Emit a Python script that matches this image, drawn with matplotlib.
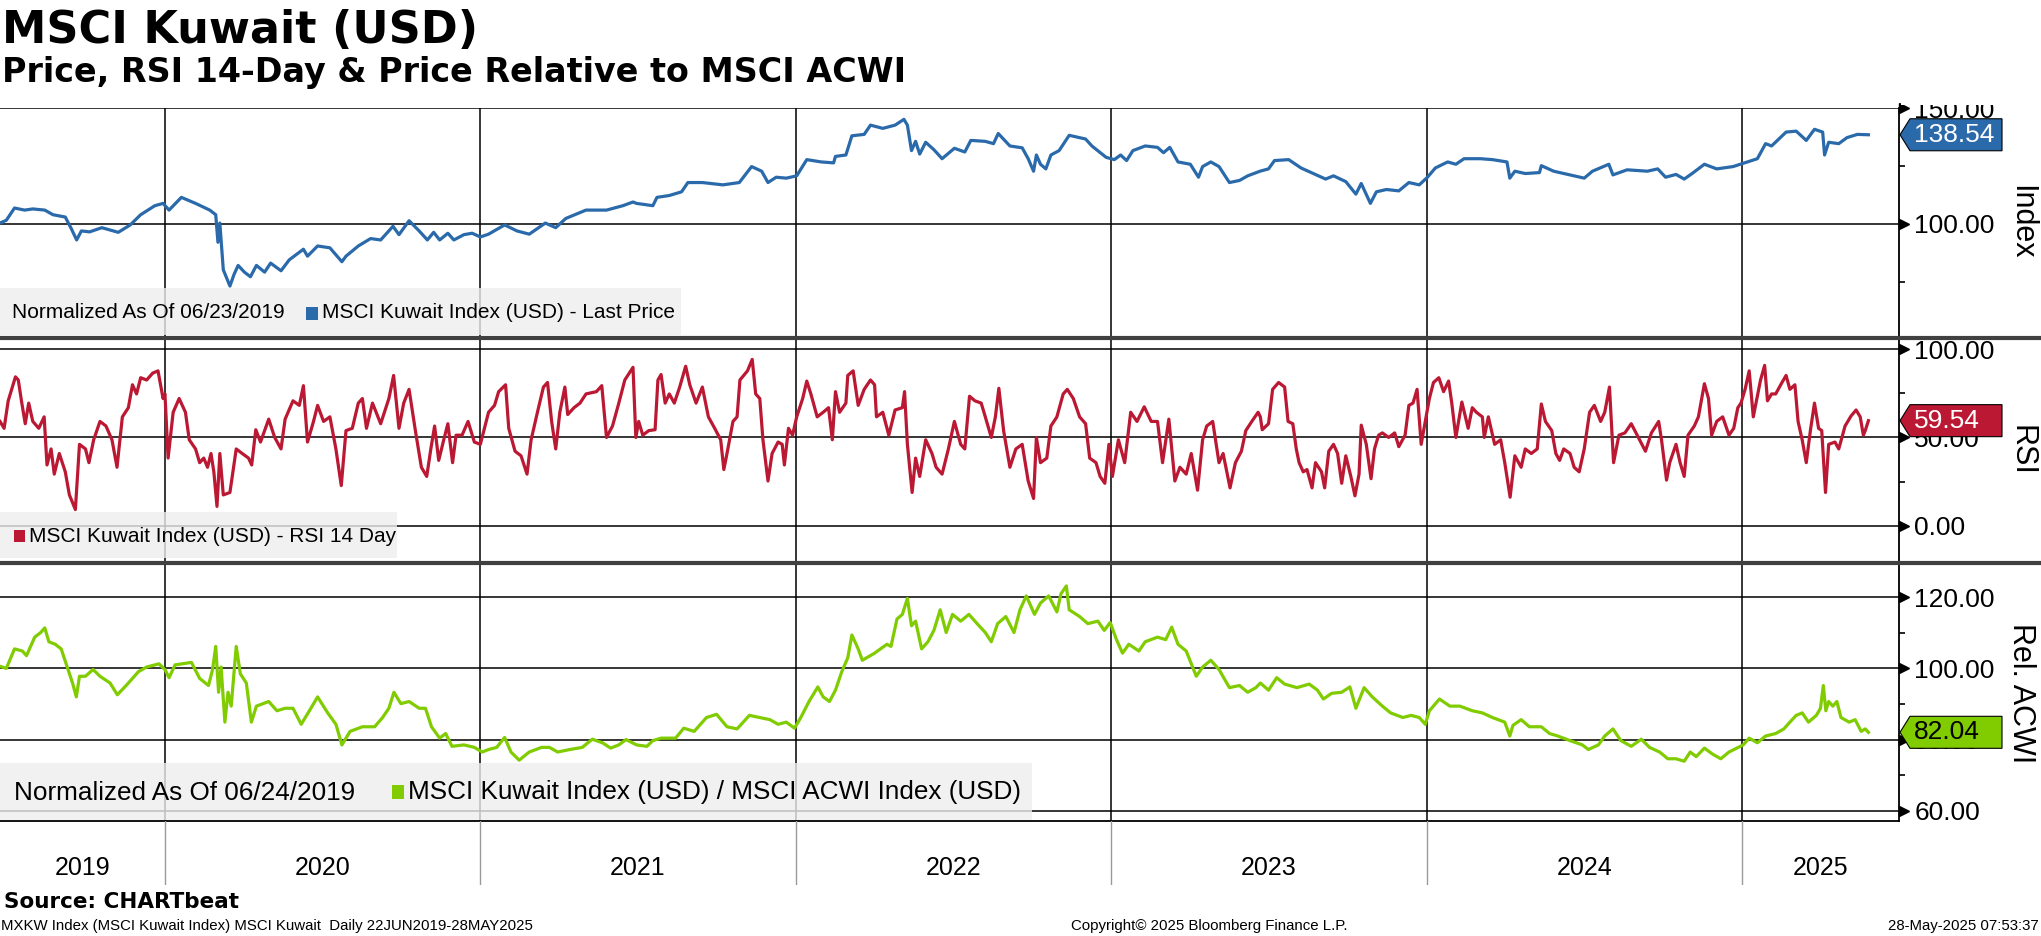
import matplotlib
matplotlib.use('Agg')
import matplotlib.pyplot as plt
import matplotlib.transforms as mtransforms
from matplotlib.patches import Rectangle, Polygon
from matplotlib.lines import Line2D

# ---- data (decimal years) ----
price_t = [2019.477, 2019.497, 2019.523, 2019.555, 2019.581, 2019.619, 2019.645, 2019.684, 2019.703, 2019.720,
           2019.735, 2019.761, 2019.800, 2019.852, 2019.890, 2019.923, 2019.968, 2019.994, 2020.013, 2020.052,
           2020.097, 2020.142, 2020.161, 2020.168, 2020.174, 2020.185, 2020.206, 2020.219, 2020.232, 2020.252,
           2020.271, 2020.290, 2020.316, 2020.335, 2020.368, 2020.394, 2020.439, 2020.452, 2020.484, 2020.523,
           2020.561, 2020.574, 2020.613, 2020.652, 2020.684, 2020.723, 2020.742, 2020.774, 2020.806, 2020.832,
           2020.852, 2020.871, 2020.897, 2020.916, 2020.948, 2020.974, 2021.000, 2021.026, 2021.077, 2021.116,
           2021.155, 2021.206, 2021.239, 2021.271, 2021.335, 2021.400, 2021.452, 2021.484, 2021.495, 2021.547,
           2021.560, 2021.599, 2021.638, 2021.658, 2021.704, 2021.769, 2021.821, 2021.860, 2021.892, 2021.912,
           2021.938, 2021.970, 2022.003, 2022.035, 2022.081, 2022.120, 2022.126, 2022.159, 2022.178, 2022.217,
           2022.237, 2022.276, 2022.315, 2022.343, 2022.354, 2022.367, 2022.380, 2022.393, 2022.412, 2022.438,
           2022.464, 2022.503, 2022.536, 2022.555, 2022.601, 2022.627, 2022.642, 2022.679, 2022.718, 2022.737,
           2022.754, 2022.763, 2022.776, 2022.793, 2022.809, 2022.835, 2022.867, 2022.919, 2022.939, 2022.984,
           2023.010, 2023.030, 2023.049, 2023.069, 2023.108, 2023.147, 2023.166, 2023.186, 2023.212, 2023.251,
           2023.277, 2023.290, 2023.316, 2023.342, 2023.375, 2023.407, 2023.433, 2023.472, 2023.499, 2023.518,
           2023.563, 2023.602, 2023.641, 2023.680, 2023.705, 2023.744, 2023.776, 2023.793, 2023.822, 2023.841,
           2023.873, 2023.912, 2023.944, 2023.977, 2024.003, 2024.028, 2024.067, 2024.093, 2024.119, 2024.171,
           2024.209, 2024.255, 2024.264, 2024.280, 2024.313, 2024.358, 2024.364, 2024.403, 2024.455, 2024.500,
           2024.526, 2024.578, 2024.591, 2024.636, 2024.700, 2024.733, 2024.758, 2024.791, 2024.817, 2024.842,
           2024.881, 2024.920, 2024.972, 2025.004, 2025.049, 2025.075, 2025.094, 2025.140, 2025.172, 2025.204,
           2025.230, 2025.256, 2025.262, 2025.275, 2025.307, 2025.333, 2025.366, 2025.401]
price_v = [100.4, 101.6, 106.9, 106.0, 106.5, 106.0, 104.0, 103.0, 98.0, 93.1,
           97.0, 96.6, 98.4, 96.4, 99.6, 104.0, 107.9, 108.9, 106.0, 111.5,
           108.9, 106.0, 104.0, 92.1, 100.4, 80.2, 73.2, 78.2, 82.1, 79.2,
           77.2, 82.1, 79.2, 83.1, 79.8, 84.5, 89.1, 86.1, 90.5, 89.7,
           83.7, 86.1, 90.5, 93.7, 93.1, 99.0, 95.4, 101.4, 97.0, 93.1,
           96.4, 93.1, 96.0, 93.1, 95.4, 96.0, 94.4, 95.6, 99.6, 97.0,
           95.6, 100.4, 98.4, 102.4, 106.0, 106.0, 107.9, 109.5, 108.9, 107.9,
           111.5, 112.3, 113.9, 117.9, 117.9, 116.9, 117.9, 124.8, 122.8, 117.9,
           120.2, 119.8, 120.8, 127.8, 126.8, 126.4, 129.2, 129.8, 138.1, 138.7,
           142.7, 141.3, 142.7, 145.2, 142.7, 131.7, 135.7, 130.2, 135.3, 132.1,
           128.2, 132.7, 131.1, 136.1, 135.7, 134.7, 139.1, 133.7, 132.9, 128.2,
           122.8, 129.8, 125.8, 123.8, 129.8, 131.7, 138.3, 136.7, 133.7, 128.8,
           127.8, 129.8, 127.4, 131.7, 133.7, 133.1, 130.8, 133.1, 126.8, 125.8,
           120.2, 124.8, 126.8, 124.8, 117.9, 118.8, 120.8, 122.8, 123.8, 127.4,
           127.8, 124.2, 121.8, 119.4, 120.8, 118.3, 112.9, 117.5, 108.9, 113.9,
           114.9, 114.3, 117.9, 116.9, 120.2, 124.2, 126.8, 125.8, 128.2, 128.2,
           127.8, 126.8, 119.8, 122.8, 121.8, 122.2, 125.2, 122.8, 121.2, 119.8,
           122.8, 125.8, 121.2, 123.4, 122.8, 123.8, 120.2, 121.4, 119.4, 121.8,
           125.8, 123.8, 124.8, 126.2, 128.2, 134.7, 133.7, 139.7, 140.1, 136.1,
           140.9, 139.7, 129.8, 135.3, 134.7, 137.3, 138.7, 138.54]

rsi_t = [2019.477, 2019.490, 2019.503, 2019.526, 2019.535, 2019.545, 2019.557, 2019.568, 2019.581, 2019.600,
         2019.617, 2019.626, 2019.639, 2019.649, 2019.665, 2019.684, 2019.697, 2019.716, 2019.729, 2019.748,
         2019.759, 2019.774, 2019.794, 2019.813, 2019.832, 2019.848, 2019.865, 2019.884, 2019.897, 2019.910,
         2019.923, 2019.942, 2019.961, 2019.978, 2019.994, 2020.000, 2020.010, 2020.026, 2020.045, 2020.065,
         2020.077, 2020.097, 2020.110, 2020.123, 2020.135, 2020.146, 2020.155, 2020.165, 2020.174, 2020.185,
         2020.206, 2020.226, 2020.245, 2020.265, 2020.275, 2020.288, 2020.303, 2020.329, 2020.348, 2020.368,
         2020.381, 2020.406, 2020.426, 2020.439, 2020.452, 2020.471, 2020.484, 2020.503, 2020.523, 2020.542,
         2020.559, 2020.574, 2020.594, 2020.613, 2020.626, 2020.639, 2020.658, 2020.684, 2020.710, 2020.725,
         2020.742, 2020.757, 2020.774, 2020.794, 2020.813, 2020.830, 2020.843, 2020.855, 2020.868, 2020.884,
         2020.897, 2020.912, 2020.923, 2020.942, 2020.961, 2020.981, 2021.000, 2021.013, 2021.026, 2021.045,
         2021.058, 2021.080, 2021.090, 2021.110, 2021.129, 2021.148, 2021.161, 2021.181, 2021.200, 2021.213,
         2021.226, 2021.239, 2021.252, 2021.268, 2021.277, 2021.297, 2021.316, 2021.335, 2021.368, 2021.385,
         2021.400, 2021.419, 2021.439, 2021.458, 2021.484, 2021.493, 2021.502, 2021.515, 2021.534, 2021.554,
         2021.563, 2021.573, 2021.586, 2021.599, 2021.615, 2021.632, 2021.651, 2021.664, 2021.684, 2021.704,
         2021.723, 2021.743, 2021.762, 2021.772, 2021.782, 2021.801, 2021.814, 2021.823, 2021.847, 2021.862,
         2021.873, 2021.886, 2021.896, 2021.912, 2021.925, 2021.944, 2021.957, 2021.964, 2021.977, 2021.990,
         2022.003, 2022.022, 2022.035, 2022.048, 2022.068, 2022.087, 2022.104, 2022.116, 2022.126, 2022.139,
         2022.159, 2022.165, 2022.182, 2022.198, 2022.217, 2022.237, 2022.250, 2022.256, 2022.276, 2022.295,
         2022.315, 2022.338, 2022.345, 2022.354, 2022.369, 2022.380, 2022.393, 2022.412, 2022.432, 2022.445,
         2022.464, 2022.484, 2022.503, 2022.523, 2022.536, 2022.551, 2022.568, 2022.588, 2022.601, 2022.620,
         2022.633, 2022.644, 2022.659, 2022.679, 2022.698, 2022.718, 2022.737, 2022.754, 2022.763, 2022.776,
         2022.796, 2022.809, 2022.828, 2022.848, 2022.861, 2022.880, 2022.900, 2022.919, 2022.932, 2022.952,
         2022.965, 2022.980, 2022.993, 2023.004, 2023.023, 2023.043, 2023.062, 2023.082, 2023.105, 2023.127,
         2023.147, 2023.163, 2023.183, 2023.202, 2023.218, 2023.238, 2023.254, 2023.274, 2023.290, 2023.303,
         2023.322, 2023.342, 2023.355, 2023.377, 2023.394, 2023.413, 2023.427, 2023.446, 2023.466, 2023.473,
         2023.479, 2023.499, 2023.512, 2023.531, 2023.550, 2023.561, 2023.576, 2023.587, 2023.596, 2023.609,
         2023.621, 2023.637, 2023.648, 2023.667, 2023.677, 2023.690, 2023.705, 2023.718, 2023.731, 2023.744,
         2023.760, 2023.773, 2023.786, 2023.793, 2023.809, 2023.824, 2023.835, 2023.848, 2023.860, 2023.880,
         2023.899, 2023.912, 2023.932, 2023.944, 2023.957, 2023.970, 2023.983, 2023.996, 2024.009, 2024.022,
         2024.039, 2024.054, 2024.070, 2024.080, 2024.093, 2024.112, 2024.132, 2024.145, 2024.158, 2024.177,
         2024.183, 2024.196, 2024.216, 2024.235, 2024.248, 2024.265, 2024.280, 2024.300, 2024.313, 2024.332,
         2024.351, 2024.364, 2024.377, 2024.397, 2024.410, 2024.422, 2024.435, 2024.455, 2024.468, 2024.484,
         2024.500, 2024.517, 2024.532, 2024.552, 2024.565, 2024.580, 2024.593, 2024.610, 2024.629, 2024.649,
         2024.668, 2024.694, 2024.713, 2024.736, 2024.745, 2024.761, 2024.771, 2024.791, 2024.804, 2024.817,
         2024.829, 2024.849, 2024.862, 2024.881, 2024.894, 2024.904, 2024.920, 2024.939, 2024.959, 2024.974,
         2024.987, 2024.997, 2025.010, 2025.023, 2025.036, 2025.049, 2025.059, 2025.072, 2025.081, 2025.094,
         2025.107, 2025.127, 2025.140, 2025.152, 2025.168, 2025.178, 2025.191, 2025.204, 2025.217, 2025.230,
         2025.243, 2025.253, 2025.265, 2025.275, 2025.295, 2025.307, 2025.327, 2025.346, 2025.362, 2025.375,
         2025.385, 2025.391, 2025.401]
rsi_v = [59.1, 55.2, 70.8, 84.4, 82.6, 70.8, 57.8, 69.5, 59.1, 55.2,
         61.7, 34.4, 43.5, 29.2, 40.9, 30.5, 17.4, 9.1, 46.1, 43.5,
         35.7, 48.7, 59.1, 56.5, 48.7, 33.1, 61.7, 66.9, 79.9, 74.7,
         83.9, 82.6, 86.5, 87.8, 72.1, 74.7, 38.3, 64.3, 72.1, 64.3,
         48.7, 43.5, 35.7, 38.3, 33.1, 40.9, 30.5, 10.9, 40.9, 17.4,
         18.8, 43.5, 40.9, 38.3, 34.4, 54.4, 47.4, 60.4, 50.0, 43.5,
         60.4, 70.8, 68.2, 79.4, 47.4, 59.1, 68.2, 59.1, 61.7, 43.5,
         22.7, 53.9, 55.2, 69.5, 72.1, 55.2, 69.5, 57.8, 72.1, 85.2,
         55.2, 69.5, 77.3, 53.9, 33.1, 27.9, 43.5, 56.5, 37.0, 48.7,
         57.8, 35.7, 51.3, 51.3, 59.1, 47.4, 46.1, 55.2, 64.3, 68.2,
         76.0, 79.9, 55.2, 42.2, 39.6, 29.2, 48.7, 64.3, 78.6, 81.2,
         59.1, 43.5, 64.3, 78.6, 63.0, 66.9, 69.5, 74.7, 76.0, 79.4,
         50.0, 56.5, 69.5, 82.6, 89.8, 50.0, 59.1, 51.3, 53.9, 54.4,
         82.6, 85.7, 69.5, 74.7, 69.5, 78.6, 90.4, 79.9, 69.5, 78.6,
         61.7, 55.2, 48.7, 31.8, 40.9, 59.1, 61.7, 82.6, 87.8, 94.3,
         74.7, 72.1, 48.7, 25.3, 40.9, 47.4, 46.1, 34.4, 55.2, 51.3,
         61.7, 72.1, 82.0, 74.7, 61.7, 64.3, 66.9, 48.7, 76.0, 64.3,
         69.5, 85.2, 87.8, 68.2, 77.3, 82.6, 79.9, 61.7, 64.3, 51.3,
         65.6, 66.9, 76.0, 46.1, 18.8, 38.3, 27.9, 48.7, 40.9, 33.1,
         29.2, 43.5, 59.1, 46.1, 43.5, 73.4, 70.8, 69.5, 61.7, 50.0,
         61.7, 77.9, 53.9, 33.1, 43.5, 46.1, 25.3, 15.4, 50.0, 35.7,
         38.3, 56.5, 61.7, 74.7, 77.3, 72.1, 61.7, 57.8, 38.3, 35.7,
         27.9, 24.0, 46.1, 27.9, 48.7, 35.7, 64.3, 59.1, 67.4, 59.1,
         59.1, 35.7, 60.4, 25.3, 33.1, 29.2, 40.9, 20.1, 48.7, 56.5,
         59.1, 35.7, 40.9, 21.4, 35.7, 42.2, 53.9, 59.1, 64.3, 61.7,
         54.4, 57.8, 77.3, 81.2, 78.6, 59.1, 57.8, 43.5, 35.7, 30.5,
         31.8, 21.4, 35.7, 30.5, 21.4, 42.2, 46.1, 40.9, 24.0, 39.6,
         27.9, 16.9, 29.2, 57.0, 46.1, 26.6, 43.5, 51.3, 52.6, 50.0,
         52.6, 44.8, 51.3, 68.2, 69.5, 77.3, 46.1, 59.1, 72.1, 81.2,
         83.9, 76.0, 82.0, 69.5, 50.0, 70.1, 55.2, 66.9, 64.3, 61.7,
         50.0, 61.7, 46.1, 48.7, 35.7, 16.1, 39.6, 33.1, 43.5, 40.9,
         43.5, 69.0, 59.1, 53.9, 40.9, 37.0, 43.5, 40.9, 33.1, 30.5,
         43.5, 64.3, 68.2, 59.1, 64.3, 78.6, 35.7, 51.3, 52.6, 57.8,
         51.3, 42.2, 52.6, 59.1, 48.7, 25.8, 35.7, 46.1, 35.7, 27.9,
         51.3, 56.5, 61.7, 80.5, 72.1, 51.3, 59.1, 61.7, 51.3, 55.2,
         66.9, 69.5, 77.3, 87.8, 61.7, 73.4, 82.6, 90.9, 70.8, 74.7,
         74.7, 81.2, 85.2, 77.3, 79.9, 59.1, 48.7, 35.7, 53.9, 69.5,
         55.2, 53.9, 18.8, 46.1, 47.4, 43.5, 56.5, 62.2, 65.6, 61.7,
         51.3, 53.9, 59.54]

rel_t = [2019.477, 2019.497, 2019.523, 2019.548, 2019.561, 2019.587, 2019.606, 2019.619, 2019.632, 2019.652,
         2019.671, 2019.690, 2019.707, 2019.719, 2019.729, 2019.748, 2019.772, 2019.794, 2019.826, 2019.849,
         2019.877, 2019.916, 2019.942, 2019.981, 2020.000, 2020.013, 2020.032, 2020.084, 2020.110, 2020.138,
         2020.151, 2020.161, 2020.170, 2020.178, 2020.190, 2020.200, 2020.210, 2020.226, 2020.239, 2020.258,
         2020.274, 2020.290, 2020.329, 2020.355, 2020.381, 2020.406, 2020.432, 2020.458, 2020.484, 2020.516,
         2020.542, 2020.561, 2020.587, 2020.626, 2020.665, 2020.690, 2020.710, 2020.726, 2020.748, 2020.774,
         2020.806, 2020.826, 2020.845, 2020.871, 2020.890, 2020.910, 2020.948, 2020.981, 2021.006, 2021.026,
         2021.052, 2021.077, 2021.097, 2021.123, 2021.155, 2021.194, 2021.219, 2021.245, 2021.284, 2021.323,
         2021.355, 2021.387, 2021.413, 2021.439, 2021.462, 2021.495, 2021.528, 2021.547, 2021.573, 2021.619,
         2021.645, 2021.678, 2021.717, 2021.749, 2021.782, 2021.814, 2021.853, 2021.886, 2021.918, 2021.944,
         2021.970, 2021.996, 2022.016, 2022.042, 2022.070, 2022.087, 2022.107, 2022.126, 2022.146, 2022.165,
         2022.178, 2022.198, 2022.211, 2022.250, 2022.289, 2022.302, 2022.321, 2022.338, 2022.354, 2022.367,
         2022.380, 2022.399, 2022.419, 2022.438, 2022.458, 2022.477, 2022.497, 2022.523, 2022.549, 2022.575,
         2022.601, 2022.620, 2022.640, 2022.666, 2022.692, 2022.711, 2022.731, 2022.757, 2022.776, 2022.802,
         2022.828, 2022.841, 2022.858, 2022.867, 2022.900, 2022.926, 2022.958, 2022.978, 2022.997, 2023.017,
         2023.036, 2023.056, 2023.088, 2023.108, 2023.147, 2023.173, 2023.192, 2023.212, 2023.238, 2023.270,
         2023.290, 2023.316, 2023.342, 2023.375, 2023.407, 2023.433, 2023.459, 2023.473, 2023.499, 2023.525,
         2023.550, 2023.589, 2023.628, 2023.654, 2023.673, 2023.699, 2023.731, 2023.757, 2023.776, 2023.802,
         2023.828, 2023.860, 2023.886, 2023.925, 2023.951, 2023.977, 2023.996, 2024.009, 2024.041, 2024.074,
         2024.106, 2024.145, 2024.177, 2024.209, 2024.248, 2024.264, 2024.274, 2024.300, 2024.326, 2024.364,
         2024.390, 2024.416, 2024.455, 2024.494, 2024.513, 2024.545, 2024.565, 2024.591, 2024.616, 2024.649,
         2024.681, 2024.707, 2024.739, 2024.765, 2024.791, 2024.817, 2024.836, 2024.855, 2024.881, 2024.907,
         2024.933, 2024.959, 2024.984, 2025.004, 2025.023, 2025.049, 2025.075, 2025.107, 2025.133, 2025.152,
         2025.172, 2025.191, 2025.211, 2025.236, 2025.249, 2025.258, 2025.266, 2025.275, 2025.288, 2025.301,
         2025.314, 2025.340, 2025.359, 2025.378, 2025.391, 2025.401]
rel_v = [100.6, 100.0, 105.5, 104.9, 103.6, 108.8, 110.1, 111.4, 107.5, 106.8,
         105.5, 100.4, 95.9, 92.0, 97.8, 97.8, 99.7, 97.8, 95.9, 92.6,
         95.2, 99.1, 100.4, 101.3, 99.7, 97.4, 101.0, 101.7, 97.2, 95.2,
         99.7, 106.2, 93.3, 100.4, 84.9, 93.3, 89.4, 106.2, 98.5, 95.9,
         84.9, 89.4, 90.7, 88.1, 88.8, 88.8, 84.3, 88.1, 92.0, 87.5,
         84.3, 78.5, 82.3, 83.6, 83.6, 86.2, 88.8, 93.3, 90.1, 90.7,
         88.8, 88.8, 83.6, 80.4, 81.7, 78.1, 78.5, 77.8, 76.5, 77.2,
         77.8, 80.6, 76.5, 74.2, 76.5, 77.8, 77.8, 76.5, 77.2, 77.8,
         80.1, 79.1, 77.6, 78.5, 80.0, 78.5, 78.1, 79.7, 80.4, 80.4,
         83.2, 82.3, 86.2, 87.1, 83.6, 83.0, 86.8, 86.2, 85.6, 84.3,
         84.9, 83.2, 86.2, 90.7, 94.8, 92.0, 90.7, 93.9, 99.1, 103.0,
         109.4, 105.5, 102.3, 104.3, 106.8, 106.2, 113.9, 115.2, 119.7, 112.0,
         113.3, 105.5, 107.5, 110.7, 116.5, 110.1, 115.2, 113.3, 115.2, 112.6,
         110.1, 107.5, 112.6, 114.6, 110.1, 116.5, 120.4, 115.2, 118.4, 120.4,
         115.9, 121.0, 123.2, 116.5, 114.6, 112.6, 113.3, 110.7, 112.9, 108.1,
         104.3, 106.8, 104.9, 107.5, 108.8, 108.1, 111.6, 106.8, 104.9, 97.8,
         100.4, 102.3, 99.7, 94.6, 95.2, 93.3, 94.6, 95.9, 93.9, 97.4,
         95.6, 94.6, 95.6, 93.9, 91.4, 93.0, 93.3, 94.8, 88.8, 94.6,
         92.0, 89.4, 87.5, 86.2, 86.8, 86.2, 84.3, 88.1, 91.4, 89.4,
         89.4, 88.1, 87.5, 86.2, 84.9, 81.0, 84.0, 85.6, 83.6, 83.6,
         81.7, 81.0, 79.7, 78.5, 77.2, 78.5, 81.0, 83.0, 79.7, 78.1,
         80.1, 77.8, 76.5, 74.6, 74.6, 73.9, 76.5, 75.2, 77.6, 75.9,
         74.6, 76.5, 77.6, 78.5, 80.4, 79.1, 81.0, 81.7, 83.0, 84.9,
         86.8, 87.5, 84.9, 86.8, 88.8, 95.2, 88.1, 90.7, 89.4, 90.7,
         86.2, 84.9, 85.6, 82.3, 83.0, 82.04]

year_bounds = [2020, 2021, 2022, 2023, 2024, 2025]
year_names = ['2019', '2020', '2021', '2022', '2023', '2024', '2025']
x_start, x_end = 2019.477, 2025.498

BLUE = '#2a6aab'
RED = '#bb1833'
GREEN = '#80cc00'
REG = 'Liberation Sans'
BOLD = 'DejaVu Sans'

W, H, DPI = 2041, 936, 100
fig = plt.figure(figsize=(W / DPI, H / DPI), dpi=DPI)
fig.patch.set_facecolor('white')


def fx(px):
    return px / W


def fy(py):
    return 1 - py / H


SPINE_X = 1899


def make_panel(top, bottom, ylim, majors, minors, ylabel):
    ax = fig.add_axes([0, fy(bottom), fx(SPINE_X), (bottom - top) / H])
    ax.set_xlim(x_start, x_end)
    ax.set_ylim(*ylim)
    for s in ['left', 'top', 'bottom']:
        ax.spines[s].set_visible(False)
    ax.spines['right'].set_linewidth(1.3)
    ax.yaxis.tick_right()
    ax.set_yticks(majors)
    ax.set_yticklabels([f'{v:.2f}' for v in majors], fontsize=19, family=REG)
    ax.set_yticks(minors, minor=True)
    ax.tick_params(axis='y', which='major', length=0, pad=11)
    ax.tick_params(axis='y', which='minor', length=4, width=1.2, direction='out')
    ax.set_xticks([])
    for v in majors:
        ax.axhline(v, color='black', lw=1.1, zorder=1)
    for yr in year_bounds:
        ax.axvline(yr, color='black', lw=1.1, zorder=1)
    # arrow style major ticks
    tr = mtransforms.blended_transform_factory(ax.transAxes, ax.transData)
    ax.plot([1 + 5 / SPINE_X] * len(majors), majors, ls='none', marker='>', ms=7,
            color='black', transform=tr, clip_on=False, zorder=5)
    fig.text(fx(2021), fy((top + bottom) / 2), ylabel, rotation=270, ha='center',
             va='center', fontsize=22, family=REG)
    return ax


ax1 = make_panel(108, 336.5, (51.4, 150.1), [100, 150], [75, 125], 'Index')
ax2 = make_panel(340, 560.5, (-19.8, 105.3), [0, 50, 100], [25, 75], 'RSI')
ax3 = make_panel(564.6, 821, (57.1, 129.2), [60, 80, 100, 120], [70, 90, 110], 'Rel. ACWI')
ax3.spines['bottom'].set_visible(True)
ax3.spines['bottom'].set_linewidth(1.3)

ax1.plot(price_t, price_v, color=BLUE, lw=2.3, zorder=3)
ax2.plot(rsi_t, rsi_v, color=RED, lw=2.3, zorder=3)
ax3.plot(rel_t, rel_v, color=GREEN, lw=2.3, zorder=3)

# hide the top of the clipped 150.00 label
fig.add_artist(Rectangle((fx(1901), fy(105)), 1 - fx(1901), 105 / H, transform=fig.transFigure,
                         facecolor='white', edgecolor='none', zorder=8))

# panel separators
for sep in [338.3, 562.6]:
    fig.add_artist(Line2D([0, 1], [fy(sep), fy(sep)], transform=fig.transFigure,
                          color='#404040', lw=3.0, zorder=9))

# year label strip
ax4 = fig.add_axes([0, fy(885), fx(SPINE_X), (885 - 821) / H])
ax4.set_xlim(x_start, x_end)
ax4.set_ylim(0, 1)
ax4.axis('off')
for yr in year_bounds:
    ax4.axvline(yr, color='#9a9a9a', lw=1.0)
edges = [x_start] + year_bounds + [x_end]
for i, name in enumerate(year_names):
    ax4.text((edges[i] + edges[i + 1]) / 2, 0.27, name, ha='center', va='center',
             fontsize=18, family=REG)


# legends
def legend_box(x0, x1, y0, y1):
    fig.add_artist(Rectangle((fx(x0), fy(y1)), fx(x1 - x0), (y1 - y0) / H, transform=fig.transFigure,
                             facecolor='#eeeeee', edgecolor='none', alpha=0.8, zorder=6))


def legend_square(x0, x1, y0, y1, color):
    fig.add_artist(Rectangle((fx(x0), fy(y1)), fx(x1 - x0), (y1 - y0) / H, transform=fig.transFigure,
                             facecolor=color, edgecolor='none', zorder=7))


legend_box(0, 681, 288, 335)
fig.text(fx(12), fy(313), 'Normalized As Of 06/23/2019', fontsize=15, family=REG, va='center', zorder=7)
legend_square(306, 318, 306.5, 319.5, BLUE)
fig.text(fx(322), fy(313), 'MSCI Kuwait Index (USD) - Last Price', fontsize=15, family=REG,
         va='center', zorder=7)

legend_box(0, 397, 512, 558)
legend_square(13.5, 24.5, 530, 542, RED)
fig.text(fx(29), fy(537), 'MSCI Kuwait Index (USD) - RSI 14 Day', fontsize=15, family=REG,
         va='center', zorder=7)

legend_box(0, 1032, 763, 820)
fig.text(fx(14), fy(792.5), 'Normalized As Of 06/24/2019', fontsize=18.8, family=REG, va='center', zorder=7)
legend_square(392, 404, 785, 799, GREEN)
fig.text(fx(408), fy(792.5), 'MSCI Kuwait Index (USD) / MSCI ACWI Index (USD)', fontsize=18.8,
         family=REG, va='center', zorder=7)


# last value tags
def value_tag(ax, value, color, text_color):
    yc = ax.transData.transform((x_end, value))[1]
    yc_px = H - yc
    pts = [(1900, yc_px), (1910, yc_px - 16), (2002, yc_px - 16), (2002, yc_px + 16), (1910, yc_px + 16)]
    fig.add_artist(Polygon([(fx(a), fy(b)) for a, b in pts], closed=True, transform=fig.transFigure,
                           facecolor=color, edgecolor='black', lw=0.8, zorder=10))
    fig.text(fx(1914), fy(yc_px), f'{value:.2f}', fontsize=19, family=REG, color=text_color,
             va='center', ha='left', zorder=11)


value_tag(ax1, price_v[-1], BLUE, 'white')
value_tag(ax2, rsi_v[-1], RED, 'white')
value_tag(ax3, rel_v[-1], GREEN, 'black')

# titles
fig.text(fx(2), fy(43), 'MSCI Kuwait (USD)', fontsize=32, fontweight='bold', family=BOLD, va='baseline')
fig.text(fx(2), fy(82), 'Price, RSI 14-Day & Price Relative to MSCI ACWI', fontsize=24,
         fontweight='bold', family=BOLD, va='baseline')

# footer
fig.text(fx(4), fy(902), 'Source: CHARTbeat', fontsize=15.5, fontweight='bold', family=BOLD, va='center')
fig.text(fx(1), fy(926), 'MXKW Index (MSCI Kuwait Index) MSCI Kuwait  Daily 22JUN2019-28MAY2025',
         fontsize=10.8, family=REG, va='center')
fig.text(fx(1209), fy(926), 'Copyright\u00a9 2025 Bloomberg Finance L.P.', fontsize=10.8, family=REG,
         va='center', ha='center')
fig.text(fx(2039), fy(926), '28-May-2025 07:53:37', fontsize=10.8, family=REG, va='center', ha='right')

fig.savefig('out.png', dpi=DPI, facecolor='white')
